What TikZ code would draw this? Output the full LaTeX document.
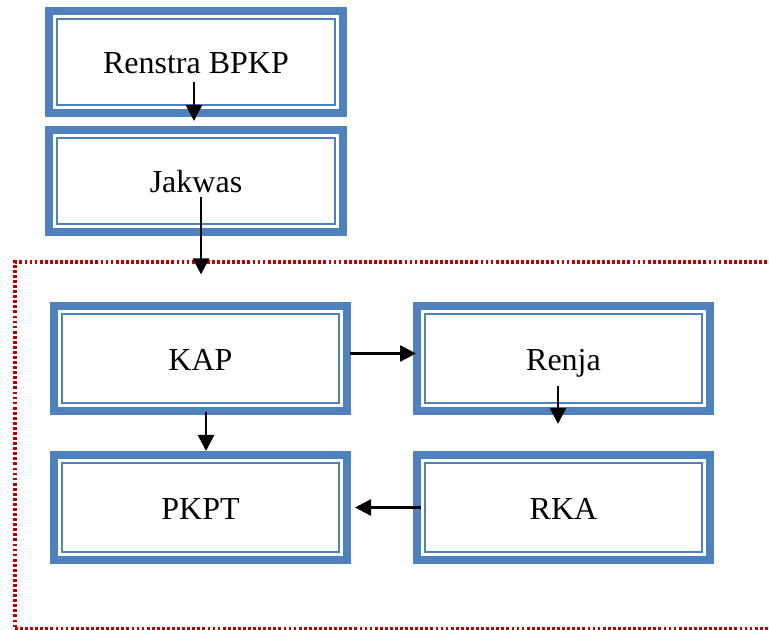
\documentclass[tikz,border=0pt]{standalone}
\usepackage{fontspec}
\setmainfont{Liberation Serif}
\usepackage{tikz}
\usetikzlibrary{calc,positioning,arrows.meta}
\definecolor{boxblue}{HTML}{4F81BD}
\definecolor{dotred}{HTML}{C00000}

\begin{document}
\begin{tikzpicture}[x=0.75pt,y=-0.75pt,
    blok/.style={draw=boxblue,line width=6pt,rectangle,inner sep=0pt,fill=white,
      text height=18pt,text depth=0pt,font=\fontsize{24}{28}\selectfont,
      path picture={\draw[boxblue,line width=1.3pt]
        ([shift={(6pt,-6pt)}]path picture bounding box.north west) rectangle
        ([shift={(-6pt,6pt)}]path picture bounding box.south east);}},
    atas/.style={blok,minimum width=220.5pt,minimum height=76.5pt},
    bawah/.style={blok,minimum width=219.75pt,minimum height=78.75pt},
    panah/.style={-{Triangle[length=12pt,width=12pt]},line width=2pt}]
    \useasboundingbox (0,0) rectangle (769,630);
    \node [draw=dotred,line width=2.4pt,dash pattern=on 2.1pt off 1.7pt,
      minimum width=570pt,minimum height=275.25pt,inner sep=0pt] (area) at (395,445.5) {};
    \node [atas] (renstra) at (196,62) {Renstra BPKP};
    \node [atas,below=6.75pt of renstra] (jakwas) {Jakwas};
    \node [bawah] (kap) at (200.5,358.5) {KAP};
    \node [bawah,right=46.5pt of kap] (renja) {Renja};
    \node [bawah,below=27pt of kap] (pkpt) {PKPT};
    \node [bawah,below=27pt of renja] (rka) {RKA};

    \draw [panah] ($(renstra.center)+(-2,20)$) -- ($(jakwas.north)+(-2,-5)$);
    \draw [panah] ($(jakwas.center)+(5,16)$) -- ($(jakwas.center |- area.north)+(5,14)$);
    \draw [panah] ($(kap.east)+(-1,-5)$) -- ($(renja.west)+(3,-5)$);
    \draw [panah] ($(renja.center)+(-5.5,27.5)$) -- ($(rka.north)+(-5.5,-27)$);
    \draw [panah] ($(rka.west)+(8,0)$) -- ($(pkpt.east)+(4,0)$);
    \draw [panah] ($(kap.south)+(5.5,-3)$) -- ($(pkpt.north)+(5.5,0)$);
  \end{tikzpicture}
\end{document}
